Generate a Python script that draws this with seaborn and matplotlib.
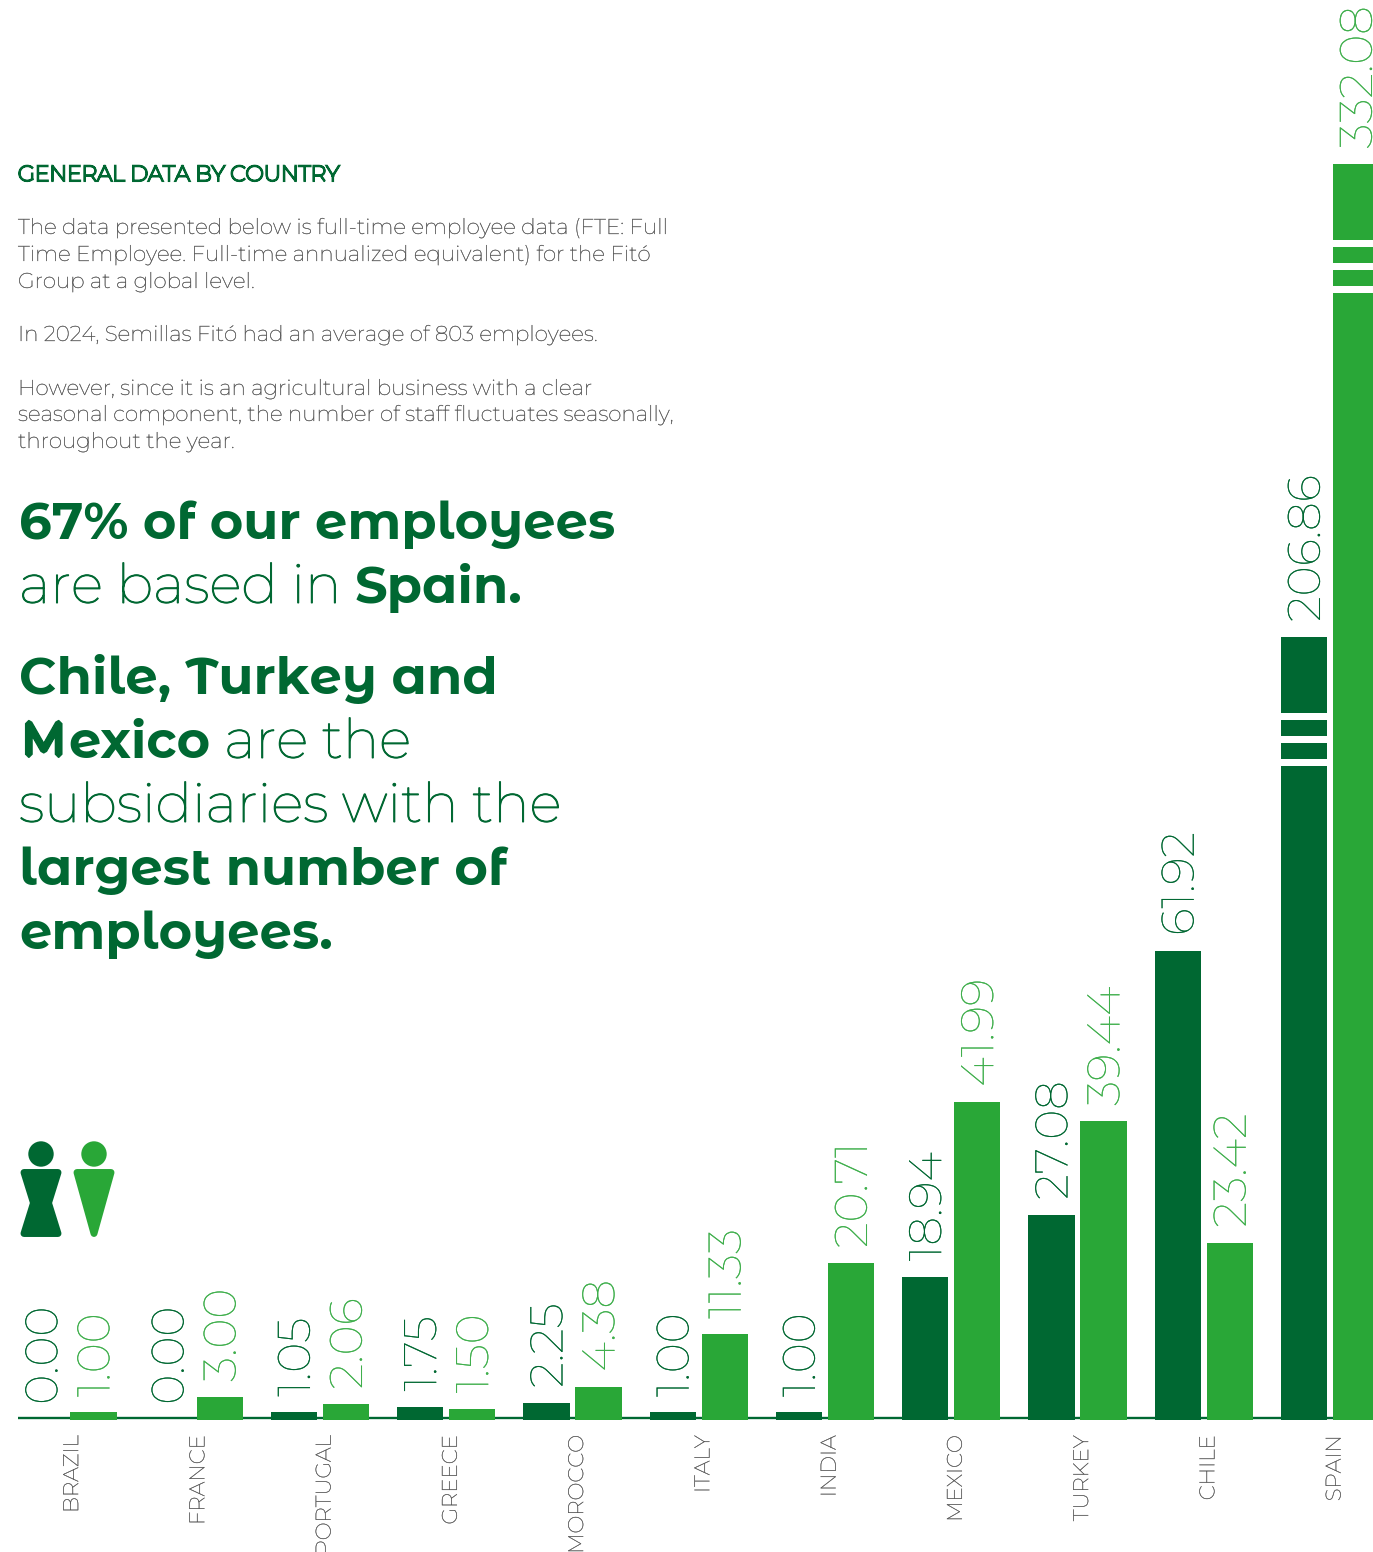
import numpy as np
import pandas as pd
import matplotlib
matplotlib.use("Agg")
import matplotlib.pyplot as plt
import matplotlib.patheffects as pe
from matplotlib.patches import Circle, Polygon
from matplotlib.transforms import Affine2D, ScaledTranslation
import seaborn as sns

# FTE per country
countries = ["BRAZIL", "FRANCE", "PORTUGAL", "GREECE", "MOROCCO", "ITALY",
             "INDIA", "MEXICO", "TURKEY", "CHILE", "SPAIN"]
women_fte = [0.00, 0.00, 1.05, 1.75, 2.25, 1.00, 1.00, 18.94, 27.08, 61.92, 206.86]
men_fte = [1.00, 3.00, 2.06, 1.50, 4.38, 11.33, 20.71, 41.99, 39.44, 23.42, 332.08]

DARK = "#006832"
GREEN = "#29A737"
GREY = "#5c5c5c"
WIDTH, HEIGHT = 1373, 1552
BASE_PX = 1420

sns.set_theme(style="white")
plt.rcParams["font.family"] = ["Montserrat", "DejaVu Sans"]

fig = plt.figure(figsize=(WIDTH / 100, HEIGHT / 100), dpi=100, facecolor="white")
ax = fig.add_axes([18 / WIDTH, (HEIGHT - BASE_PX) / HEIGHT, (WIDTH - 18) / WIDTH, BASE_PX / HEIGHT])

df = pd.DataFrame({
    "country": countries * 2,
    "fte": women_fte + men_fte,
    "group": ["women"] * len(countries) + ["men"] * len(countries),
})
sns.barplot(data=df, x="country", y="fte", hue="group", hue_order=["women", "men"],
            palette={"women": DARK, "men": GREEN}, saturation=1, width=0.824, gap=0.115,
            linewidth=0, legend=False, ax=ax, zorder=2)

# Broken value axis: linear up to the Chile bar, compressed above it
axis_values = [0, 61.92, 206.86, 332.08, 375.47]
axis_pixels = [0, 469, 783, 1256, 1420]


def to_px(v):
    return np.interp(v, axis_values, axis_pixels)


def from_px(p):
    return np.interp(p, axis_pixels, axis_values)


ax.set_yscale("function", functions=(to_px, from_px))
ax.set_ylim(0, axis_values[-1])
ax.set_xlim((18 - 67.5) / 126.25, (WIDTH - 67.5) / 126.25)
ax.yaxis.set_visible(False)
ax.set_xlabel("")
for side in ax.spines:
    ax.spines[side].set_visible(False)
ax.patch.set_visible(False)
ax.axhline(0.22, color=DARK, lw=1.7, zorder=1)

ax.tick_params(axis="x", length=0, pad=11, labelsize=15.35, labelcolor=GREY)
tick_shift = ScaledTranslation(3.7 / 72, 0, fig.dpi_scale_trans)
for label in ax.get_xticklabels():
    label.set_rotation(90)
    label.set_va("top")
    label.set_transform(label.get_transform() + tick_shift)
    label.set_path_effects([pe.withStroke(linewidth=0.2, foreground=GREY)])

# Value labels above the bars
for container, colour in zip(ax.containers[:2], (DARK, "#3FAF4C")):
    labels = ax.bar_label(container, fmt="%.2f", rotation=90, padding=11, fontsize=33, color=colour)
    for ann in labels:
        ann.xyann = (2.3, 11)
        ann.set_path_effects([pe.withStroke(linewidth=0.12, foreground=colour)])

# White stripes marking the axis break on the two tallest bars
stripe_offsets = [(76, 83), (99, 106), (122, 129)]
for container in ax.containers[:2]:
    bar = container.patches[-1]
    top = to_px(bar.get_height())
    for near, far in stripe_offsets:
        low = from_px(top - far)
        high = from_px(top - near)
        ax.bar(bar.get_x() + bar.get_width() / 2, high - low, bottom=low,
               width=bar.get_width() * 1.08, color="white", linewidth=0, zorder=3)

# Text block on the left, positioned in pixels from the top of the figure
px = Affine2D().scale(1, -1).translate(0, HEIGHT)
fig.canvas.draw()
renderer = fig.canvas.get_renderer()
TITLE = dict(family="Montserrat", fontsize=15.65)
BODY = dict(family="Montserrat", fontsize=15.45)
LIGHT = dict(family="Montserrat", fontsize=39.15)
BOLD = dict(family="Montserrat Alternates", weight=700, fontsize=36.9)
# The upright Montserrat capital, thickened to sit with the bold run
BOLD_CAP = dict(family="Montserrat", fontsize=32)
strokes = {id(TITLE): (1.5, "miter"), id(BODY): (0.2, "miter"),
           id(LIGHT): (0.7, "miter"), id(BOLD_CAP): (5.0, "bevel")}


def advance(text, props):
    """Horizontal advance of a run, counting trailing spaces."""
    probe = fig.text(0, 0, text + "|", **props)
    bar_only = fig.text(0, 0, "|", **props)
    width = probe.get_window_extent(renderer).width - bar_only.get_window_extent(renderer).width
    probe.remove()
    bar_only.remove()
    return width


def write(x, baseline, runs, colour):
    for text, props in runs:
        # the thickened capital grows by half its stroke on every side
        grow = 3.5 if props is BOLD_CAP else 0
        artist = fig.text(x + grow, baseline - grow, text, transform=px, color=colour, va="baseline", **props)
        stroke = strokes.get(id(props))
        if stroke:
            artist.set_path_effects([pe.withStroke(linewidth=stroke[0], foreground=colour, joinstyle=stroke[1])])
        x += advance(text, props) + 2 * grow


write(18, 181, [("GENERAL DATA BY COUNTRY", TITLE)], DARK)

body_lines = [
    (234, "The data presented below is full-time employee data (FTE: Full"),
    (261, "Time Employee. Full-time annualized equivalent) for the Fitó"),
    (288, "Group at a global level."),
    (341, "In 2024, Semillas Fitó had an average of 803 employees."),
    (395, "However, since it is an agricultural business with a clear"),
    (421, "seasonal component, the number of staff fluctuates seasonally,"),
    (448, "throughout the year."),
]
for baseline, line in body_lines:
    write(18, baseline, [(line, BODY)], GREY)

headline_lines = [
    (539, [("67% of our employees", BOLD)]),
    (603, [("are based in ", LIGHT), ("Spain.", BOLD)]),
    (694, [("Chile, Turkey and", BOLD)]),
    (758, [("M", BOLD_CAP), ("exico", BOLD), (" are the", LIGHT)]),
    (822, [("subsidiaries with the", LIGHT)]),
    (885, [("largest number of", BOLD)]),
    (949, [("employees.", BOLD)]),
]
for baseline, runs in headline_lines:
    write(19, baseline, runs, DARK)

# Pictograms beside the small bars
for head_x, colour, body in (
    (41, DARK, [(24, 1172.5), (58, 1172.5), (48.5, 1203), (58, 1233.5), (24, 1233.5), (33.5, 1203)]),
    (94, GREEN, [(77, 1172.5), (111, 1172.5), (94, 1233.5)]),
):
    fig.add_artist(Circle((head_x, 1154), 12.7, transform=px, facecolor=colour, edgecolor="none"))
    fig.add_artist(Polygon(body, closed=True, transform=px, facecolor=colour, edgecolor=colour,
                           linewidth=5, joinstyle="round"))

fig.savefig("out.png", dpi=100, facecolor="white")
